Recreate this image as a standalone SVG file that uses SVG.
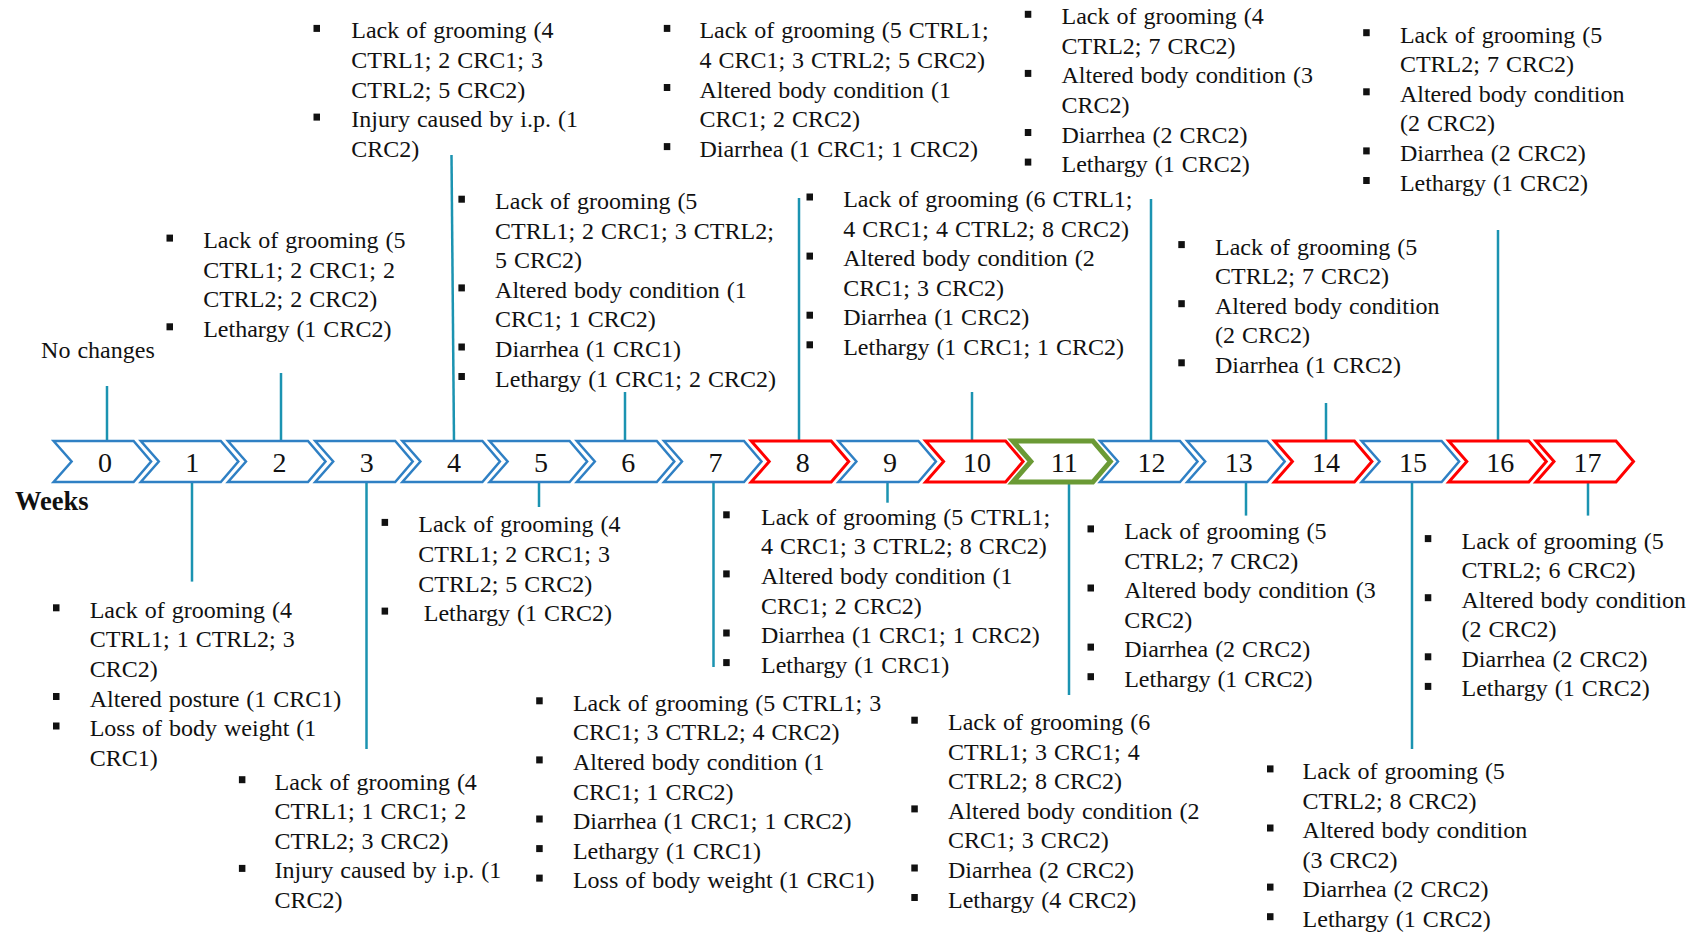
<svg xmlns="http://www.w3.org/2000/svg" width="1695" height="934" viewBox="0 0 1695 934">
<style>
.t{font-family:"Liberation Serif","Times New Roman",serif;font-size:24px;fill:#111;word-spacing:1px}
.n{font-family:"Liberation Serif","Times New Roman",serif;font-size:28px;fill:#111;text-anchor:middle}
.wk{font-family:"Liberation Serif","Times New Roman",serif;font-size:26.5px;font-weight:bold;fill:#111}
.cb{fill:#fff;stroke:#2f80c4;stroke-width:2.5;stroke-linejoin:miter}
.cr{fill:#fff;stroke:#ff0000;stroke-width:3;stroke-linejoin:miter}
.cg{fill:#fff;stroke:#6b9a35;stroke-width:5;stroke-linejoin:miter}
.b{fill:#111}
#connectors line{stroke:#1b93b1;stroke-width:2.5}
</style>
<defs>
<path id="chev" d="M0,0 L80,0 L97.5,20.5 L80,41 L0,41 L18,20.5 Z"/>
<rect id="bul" x="-3.2" y="-13.5" width="6.5" height="7"/>
</defs>

<g id="connectors">
<line x1="107" y1="386" x2="107" y2="441"/>
<line x1="281" y1="373" x2="281" y2="441"/>
<line x1="451.5" y1="155" x2="454" y2="441"/>
<line x1="625" y1="392" x2="625" y2="441"/>
<line x1="799" y1="198" x2="799" y2="441"/>
<line x1="972" y1="392" x2="972" y2="441"/>
<line x1="1151" y1="199" x2="1151" y2="441"/>
<line x1="1326" y1="403" x2="1326" y2="441"/>
<line x1="1498" y1="230" x2="1498" y2="441"/>
<line x1="192" y1="482" x2="192" y2="581.6"/>
<line x1="366.5" y1="482" x2="366.5" y2="749"/>
<line x1="539" y1="482" x2="539" y2="507"/>
<line x1="713.5" y1="482" x2="713.5" y2="667"/>
<line x1="887.5" y1="482" x2="887.5" y2="502.7"/>
<line x1="1069" y1="482" x2="1069" y2="695"/>
<line x1="1246" y1="482" x2="1246" y2="515.6"/>
<line x1="1412" y1="482" x2="1412" y2="749"/>
<line x1="1588" y1="482" x2="1588" y2="515.6"/>
</g>

<g id="week0"><use href="#chev" class="cb" x="53.6" y="441"/><text class="n" x="105.1" y="472">0</text></g>
<g id="week1"><use href="#chev" class="cb" x="140.8" y="441"/><text class="n" x="192.3" y="472">1</text></g>
<g id="week2"><use href="#chev" class="cb" x="228" y="441"/><text class="n" x="279.5" y="472">2</text></g>
<g id="week3"><use href="#chev" class="cb" x="315.2" y="441"/><text class="n" x="366.7" y="472">3</text></g>
<g id="week4"><use href="#chev" class="cb" x="402.4" y="441"/><text class="n" x="453.9" y="472">4</text></g>
<g id="week5"><use href="#chev" class="cb" x="489.6" y="441"/><text class="n" x="541.1" y="472">5</text></g>
<g id="week6"><use href="#chev" class="cb" x="576.8" y="441"/><text class="n" x="628.3" y="472">6</text></g>
<g id="week7"><use href="#chev" class="cb" x="664" y="441"/><text class="n" x="715.5" y="472">7</text></g>
<g id="week8"><use href="#chev" class="cr" x="751.2" y="441"/><text class="n" x="802.7" y="472">8</text></g>
<g id="week9"><use href="#chev" class="cb" x="838.4" y="441"/><text class="n" x="889.9" y="472">9</text></g>
<g id="week10"><use href="#chev" class="cr" x="925.6" y="441"/><text class="n" x="977.1" y="472">10</text></g>
<g id="week11"><use href="#chev" class="cg" x="1012.8" y="441"/><text class="n" x="1064.3" y="472">11</text></g>
<g id="week12"><use href="#chev" class="cb" x="1100" y="441"/><text class="n" x="1151.5" y="472">12</text></g>
<g id="week13"><use href="#chev" class="cb" x="1187.2" y="441"/><text class="n" x="1238.7" y="472">13</text></g>
<g id="week14"><use href="#chev" class="cr" x="1274.4" y="441"/><text class="n" x="1325.9" y="472">14</text></g>
<g id="week15"><use href="#chev" class="cb" x="1361.6" y="441"/><text class="n" x="1413.1" y="472">15</text></g>
<g id="week16"><use href="#chev" class="cr" x="1448.8" y="441"/><text class="n" x="1500.3" y="472">16</text></g>
<g id="week17"><use href="#chev" class="cr" x="1536" y="441"/><text class="n" x="1587.5" y="472">17</text></g>

<g id="weeks-label"><text class="wk" x="15" y="510">Weeks</text></g>

<g id="note-w0"><text class="t" x="41.1" y="358.4">No changes</text></g>

<g id="note-w2" class="b">
<use href="#bul" x="169.7" y="248.1"/><use href="#bul" x="169.7" y="336.8"/>
<text class="t"><tspan x="203.2" y="248.1">Lack of grooming (5</tspan><tspan x="203.2" y="277.7">CTRL1; 2 CRC1; 2</tspan><tspan x="203.2" y="307.2">CTRL2; 2 CRC2)</tspan><tspan x="203.2" y="336.8">Lethargy (1 CRC2)</tspan></text>
</g>

<g id="note-w4" class="b">
<use href="#bul" x="316.7" y="38.4"/><use href="#bul" x="316.7" y="127.1"/>
<text class="t"><tspan x="351.3" y="38.4">Lack of grooming (4</tspan><tspan x="351.3" y="68">CTRL1; 2 CRC1; 3</tspan><tspan x="351.3" y="97.5">CTRL2; 5 CRC2)</tspan><tspan x="351.3" y="127.1">Injury caused by i.p. (1</tspan><tspan x="351.3" y="156.6">CRC2)</tspan></text>
</g>

<g id="note-w6" class="b">
<use href="#bul" x="461.6" y="209.2"/><use href="#bul" x="461.6" y="297.9"/><use href="#bul" x="461.6" y="357"/><use href="#bul" x="461.6" y="386.5"/>
<text class="t"><tspan x="495.1" y="209.2">Lack of grooming (5</tspan><tspan x="495.1" y="238.8">CTRL1; 2 CRC1; 3 CTRL2;</tspan><tspan x="495.1" y="268.3">5 CRC2)</tspan><tspan x="495.1" y="297.9">Altered body condition (1</tspan><tspan x="495.1" y="327.4">CRC1; 1 CRC2)</tspan><tspan x="495.1" y="357">Diarrhea (1 CRC1)</tspan><tspan x="495.1" y="386.5">Lethargy (1 CRC1; 2 CRC2)</tspan></text>
</g>

<g id="note-w8" class="b">
<use href="#bul" x="667" y="38.4"/><use href="#bul" x="667" y="97.5"/><use href="#bul" x="667" y="156.6"/>
<text class="t"><tspan x="699.4" y="38.4">Lack of grooming (5 CTRL1;</tspan><tspan x="699.4" y="68">4 CRC1; 3 CTRL2; 5 CRC2)</tspan><tspan x="699.4" y="97.5">Altered body condition (1</tspan><tspan x="699.4" y="127.1">CRC1; 2 CRC2)</tspan><tspan x="699.4" y="156.6">Diarrhea (1 CRC1; 1 CRC2)</tspan></text>
</g>

<g id="note-w10" class="b">
<use href="#bul" x="809.7" y="207"/><use href="#bul" x="809.7" y="266.1"/><use href="#bul" x="809.7" y="325.2"/><use href="#bul" x="809.7" y="354.8"/>
<text class="t"><tspan x="843.2" y="207">Lack of grooming (6 CTRL1;</tspan><tspan x="843.2" y="236.6">4 CRC1; 4 CTRL2; 8 CRC2)</tspan><tspan x="843.2" y="266.1">Altered body condition (2</tspan><tspan x="843.2" y="295.7">CRC1; 3 CRC2)</tspan><tspan x="843.2" y="325.2">Diarrhea (1 CRC2)</tspan><tspan x="843.2" y="354.8">Lethargy (1 CRC1; 1 CRC2)</tspan></text>
</g>

<g id="note-w12" class="b">
<use href="#bul" x="1028" y="24.3"/><use href="#bul" x="1028" y="83.4"/><use href="#bul" x="1028" y="142.5"/><use href="#bul" x="1028" y="172.1"/>
<text class="t"><tspan x="1061.5" y="24.3">Lack of grooming (4</tspan><tspan x="1061.5" y="53.9">CTRL2; 7 CRC2)</tspan><tspan x="1061.5" y="83.4">Altered body condition (3</tspan><tspan x="1061.5" y="113">CRC2)</tspan><tspan x="1061.5" y="142.5">Diarrhea (2 CRC2)</tspan><tspan x="1061.5" y="172.1">Lethargy (1 CRC2)</tspan></text>
</g>

<g id="note-w14" class="b">
<use href="#bul" x="1181.5" y="254.6"/><use href="#bul" x="1181.5" y="313.7"/><use href="#bul" x="1181.5" y="372.8"/>
<text class="t"><tspan x="1215" y="254.6">Lack of grooming (5</tspan><tspan x="1215" y="284.2">CTRL2; 7 CRC2)</tspan><tspan x="1215" y="313.7">Altered body condition</tspan><tspan x="1215" y="343.3">(2 CRC2)</tspan><tspan x="1215" y="372.8">Diarrhea (1 CRC2)</tspan></text>
</g>

<g id="note-w16" class="b">
<use href="#bul" x="1366.4" y="42.7"/><use href="#bul" x="1366.4" y="101.8"/><use href="#bul" x="1366.4" y="160.9"/><use href="#bul" x="1366.4" y="190.5"/>
<text class="t"><tspan x="1399.9" y="42.7">Lack of grooming (5</tspan><tspan x="1399.9" y="72.3">CTRL2; 7 CRC2)</tspan><tspan x="1399.9" y="101.8">Altered body condition</tspan><tspan x="1399.9" y="131.4">(2 CRC2)</tspan><tspan x="1399.9" y="160.9">Diarrhea (2 CRC2)</tspan><tspan x="1399.9" y="190.5">Lethargy (1 CRC2)</tspan></text>
</g>

<g id="note-w1" class="b">
<use href="#bul" x="56.2" y="617.8"/><use href="#bul" x="56.2" y="706.5"/><use href="#bul" x="56.2" y="736"/>
<text class="t"><tspan x="89.7" y="617.8">Lack of grooming (4</tspan><tspan x="89.7" y="647.4">CTRL1; 1 CTRL2; 3</tspan><tspan x="89.7" y="676.9">CRC2)</tspan><tspan x="89.7" y="706.5">Altered posture (1 CRC1)</tspan><tspan x="89.7" y="736">Loss of body weight (1</tspan><tspan x="89.7" y="765.6">CRC1)</tspan></text>
</g>

<g id="note-w3" class="b">
<use href="#bul" x="242.1" y="789.7"/><use href="#bul" x="242.1" y="878.4"/>
<text class="t"><tspan x="274.6" y="789.7">Lack of grooming (4</tspan><tspan x="274.6" y="819.3">CTRL1; 1 CRC1; 2</tspan><tspan x="274.6" y="848.8">CTRL2; 3 CRC2)</tspan><tspan x="274.6" y="878.4">Injury caused by i.p. (1</tspan><tspan x="274.6" y="907.9">CRC2)</tspan></text>
</g>

<g id="note-w5" class="b">
<use href="#bul" x="384.8" y="532.4"/><use href="#bul" x="384.8" y="621.1"/>
<text class="t"><tspan x="418.3" y="532.4">Lack of grooming (4</tspan><tspan x="418.3" y="562">CTRL1; 2 CRC1; 3</tspan><tspan x="418.3" y="591.5">CTRL2; 5 CRC2)</tspan><tspan x="423.8" y="621.1">Lethargy (1 CRC2)</tspan></text>
</g>

<g id="note-w7" class="b">
<use href="#bul" x="539.4" y="710.8"/><use href="#bul" x="539.4" y="769.9"/><use href="#bul" x="539.4" y="829"/><use href="#bul" x="539.4" y="858.6"/><use href="#bul" x="539.4" y="888.1"/>
<text class="t"><tspan x="572.9" y="710.8">Lack of grooming (5 CTRL1; 3</tspan><tspan x="572.9" y="740.4">CRC1; 3 CTRL2; 4 CRC2)</tspan><tspan x="572.9" y="769.9">Altered body condition (1</tspan><tspan x="572.9" y="799.5">CRC1; 1 CRC2)</tspan><tspan x="572.9" y="829">Diarrhea (1 CRC1; 1 CRC2)</tspan><tspan x="572.9" y="858.6">Lethargy (1 CRC1)</tspan><tspan x="572.9" y="888.1">Loss of body weight (1 CRC1)</tspan></text>
</g>

<g id="note-w9" class="b">
<use href="#bul" x="726.4" y="524.8"/><use href="#bul" x="726.4" y="583.9"/><use href="#bul" x="726.4" y="643"/><use href="#bul" x="726.4" y="672.6"/>
<text class="t"><tspan x="761" y="524.8">Lack of grooming (5 CTRL1;</tspan><tspan x="761" y="554.4">4 CRC1; 3 CTRL2; 8 CRC2)</tspan><tspan x="761" y="583.9">Altered body condition (1</tspan><tspan x="761" y="613.5">CRC1; 2 CRC2)</tspan><tspan x="761" y="643">Diarrhea (1 CRC1; 1 CRC2)</tspan><tspan x="761" y="672.6">Lethargy (1 CRC1)</tspan></text>
</g>

<g id="note-w11" class="b">
<use href="#bul" x="914.5" y="730.2"/><use href="#bul" x="914.5" y="818.9"/><use href="#bul" x="914.5" y="878"/><use href="#bul" x="914.5" y="907.5"/>
<text class="t"><tspan x="948" y="730.2">Lack of grooming (6</tspan><tspan x="948" y="759.8">CTRL1; 3 CRC1; 4</tspan><tspan x="948" y="789.3">CTRL2; 8 CRC2)</tspan><tspan x="948" y="818.9">Altered body condition (2</tspan><tspan x="948" y="848.4">CRC1; 3 CRC2)</tspan><tspan x="948" y="878">Diarrhea (2 CRC2)</tspan><tspan x="948" y="907.5">Lethargy (4 CRC2)</tspan></text>
</g>

<g id="note-w13" class="b">
<use href="#bul" x="1090.7" y="538.9"/><use href="#bul" x="1090.7" y="598"/><use href="#bul" x="1090.7" y="657.1"/><use href="#bul" x="1090.7" y="686.7"/>
<text class="t"><tspan x="1124.2" y="538.9">Lack of grooming (5</tspan><tspan x="1124.2" y="568.5">CTRL2; 7 CRC2)</tspan><tspan x="1124.2" y="598">Altered body condition (3</tspan><tspan x="1124.2" y="627.6">CRC2)</tspan><tspan x="1124.2" y="657.1">Diarrhea (2 CRC2)</tspan><tspan x="1124.2" y="686.7">Lethargy (1 CRC2)</tspan></text>
</g>

<g id="note-w15" class="b">
<use href="#bul" x="1270.2" y="778.9"/><use href="#bul" x="1270.2" y="838"/><use href="#bul" x="1270.2" y="897.1"/><use href="#bul" x="1270.2" y="926.7"/>
<text class="t"><tspan x="1302.6" y="778.9">Lack of grooming (5</tspan><tspan x="1302.6" y="808.5">CTRL2; 8 CRC2)</tspan><tspan x="1302.6" y="838">Altered body condition</tspan><tspan x="1302.6" y="867.6">(3 CRC2)</tspan><tspan x="1302.6" y="897.1">Diarrhea (2 CRC2)</tspan><tspan x="1302.6" y="926.7">Lethargy (1 CRC2)</tspan></text>
</g>

<g id="note-w17" class="b">
<use href="#bul" x="1428" y="548.6"/><use href="#bul" x="1428" y="607.7"/><use href="#bul" x="1428" y="666.8"/><use href="#bul" x="1428" y="696.4"/>
<text class="t"><tspan x="1461.5" y="548.6">Lack of grooming (5</tspan><tspan x="1461.5" y="578.2">CTRL2; 6 CRC2)</tspan><tspan x="1461.5" y="607.7">Altered body condition</tspan><tspan x="1461.5" y="637.3">(2 CRC2)</tspan><tspan x="1461.5" y="666.8">Diarrhea (2 CRC2)</tspan><tspan x="1461.5" y="696.4">Lethargy (1 CRC2)</tspan></text>
</g>
</svg>
